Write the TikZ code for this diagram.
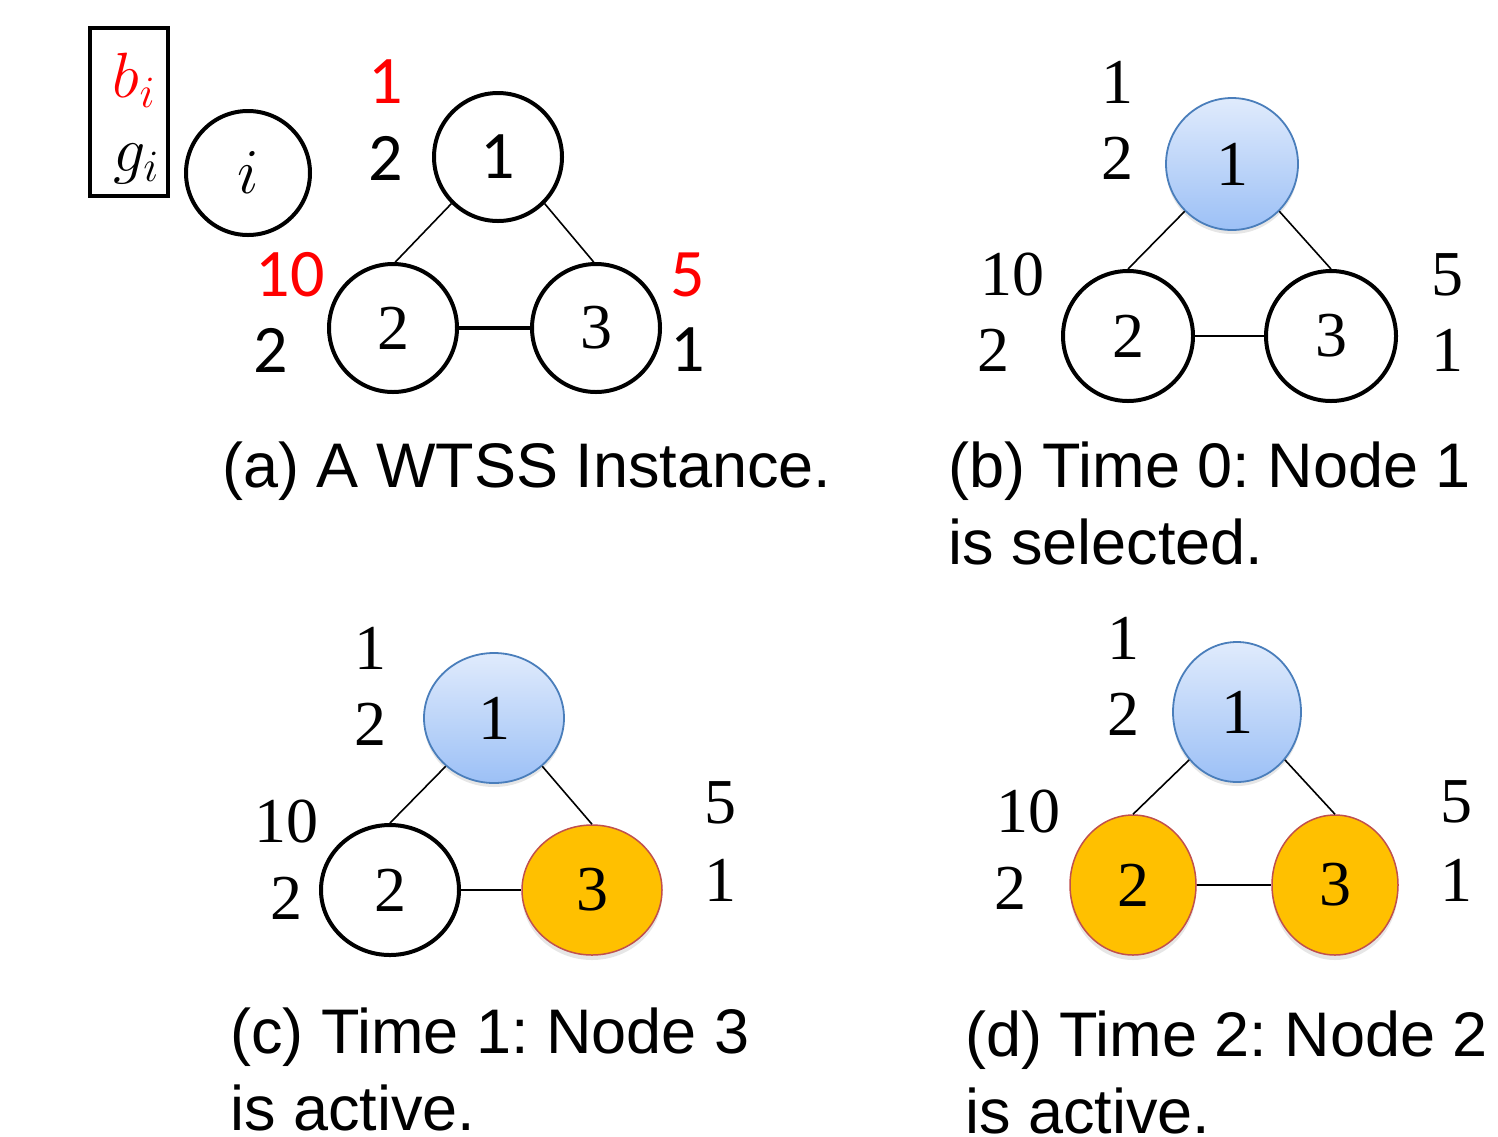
\RequirePackage{fix-cm}
\documentclass[tikz,border=0pt]{standalone}
\usepackage{fontspec}
\setmainfont{Liberation Serif}
\newfontfamily\capfont{Liberation Sans}
\newfontfamily\calfont{Carlito}
\usetikzlibrary{shapes.geometric,shadows}
\definecolor{selblue}{RGB}{74,126,187}
\definecolor{bluetop}{RGB}{224,235,252}
\definecolor{bluebot}{RGB}{156,192,246}
\definecolor{actfill}{RGB}{255,192,0}
\definecolor{actline}{RGB}{192,80,77}
\frenchspacing
\begin{document}
\begin{tikzpicture}[x=1pt,y=-1pt,
  num/.style={font=\fontsize{64}{70}\selectfont, inner sep=0pt},
  numa/.style={font=\calfont\fontsize{68}{72}\selectfont, inner sep=0pt},
  capt/.style={font=\capfont\fontsize{63}{77}\selectfont, anchor=base west, inner sep=0pt, align=left},
  plain/.style={circle, draw=black, line width=4pt, minimum size=128pt, inner sep=0pt},
  plainell/.style={ellipse, draw=black, line width=4pt, minimum width=138pt, minimum height=130pt, inner sep=0pt},
  selected/.style={ellipse, draw=selblue, line width=1.8pt, top color=bluetop, bottom color=bluebot,
    inner sep=0pt, drop shadow={opacity=0.2, shadow xshift=0pt, shadow yshift=-4pt}},
  active/.style={ellipse, draw=actline, line width=1.5pt, fill=actfill,
    inner sep=0pt, drop shadow={opacity=0.2, shadow xshift=0pt, shadow yshift=-5pt}},
  edge/.style={line width=1.6pt},
  thickedge/.style={line width=4pt}]
\useasboundingbox (0,0) rectangle (1498,1136);

% ---------- (a) legend and instance ----------
\node[draw=black, line width=4pt, minimum width=78pt, minimum height=168pt, inner sep=0pt] (legend) at (129,112) {};
\node[font=\fontsize{64}{64}\selectfont, text=red, inner sep=0pt] (bi) at (134,80) {$b_i$};
\node[font=\fontsize{64}{64}\selectfont, inner sep=0pt] (gi) at (136,164) {$g_i$};
\node[plain, minimum size=124pt, font=\fontsize{64}{64}\selectfont] (ni) at (248,173) {$i$};

\node[plain, numa] (a1) at (498,157) {1};
\node[plain, num] (a2) at (393,328) {2};
\node[plain, num] (a3) at (596,328) {3};
\draw[edge] (a1.225) -- (a2.88);
\draw[edge] (a1.-45) -- (a3.92);
\draw[thickedge] (a2) -- (a3);
\node[numa, text=red] (ab1) at (386,82) {1};
\node[numa] (ag1) at (386,158) {2};
\node[numa, text=red] (ab2) at (290,275) {10};
\node[numa] (ag2) at (271,350) {2};
\node[numa, text=red] (ab3) at (688,275) {5};
\node[numa] (ag3) at (688,350) {1};
\node[capt] (capa) at (222,487) {(a) A WTSS Instance.};

% ---------- (b) time 0 ----------
\node[selected, minimum width=132pt, minimum height=132pt, num] (b1) at (1232,164) {1};
\node[plain, minimum size=130pt, num] (b2) at (1128,336) {2};
\node[plain, minimum size=130pt, num] (b3) at (1331,336) {3};
\draw[edge] (b1.225) -- (b2.90);
\draw[edge] (b1.-45) -- (b3.90);
\draw[edge] (b2) -- (b3);
\node[num] (bb1) at (1117,82) {1};
\node[num] (bg1) at (1117,158) {2};
\node[num] (bb2) at (1012,275) {10};
\node[num] (bg2) at (993,350) {2};
\node[num] (bb3) at (1447,275) {5};
\node[num] (bg3) at (1447,350) {1};
\node[capt] (capb) at (948,564) {(b) Time 0: Node 1\\is selected.};

% ---------- (c) time 1 ----------
\node[selected, minimum width=140pt, minimum height=130pt, num] (c1) at (494,718) {1};
\node[plainell, num] (c2) at (390,890) {2};
\node[active, minimum width=140pt, minimum height=130pt, num] (c3) at (592,890) {3};
\draw[edge] (c1.225) -- (c2.90);
\draw[edge] (c1.-45) -- (c3.90);
\draw[edge] (c2) -- (c3);
\node[num] (cb1) at (370,648) {1};
\node[num] (cg1) at (370,724) {2};
\node[num] (cb2) at (286,822) {10};
\node[num] (cg2) at (286,898) {2};
\node[num] (cb3) at (720,803) {5};
\node[num] (cg3) at (720,880) {1};
\node[capt] (capc) at (230,1130) {(c) Time 1: Node 3\\is active.};

% ---------- (d) time 2 ----------
\node[selected, minimum width=128pt, minimum height=140pt, num] (d1) at (1237,712) {1};
\node[active, minimum width=126pt, minimum height=140pt, num] (d2) at (1133,885) {2};
\node[active, minimum width=126pt, minimum height=140pt, num] (d3) at (1335,885) {3};
\draw[edge] (d1.225) -- (d2.90);
\draw[edge] (d1.-45) -- (d3.90);
\draw[edge] (d2) -- (d3);
\node[num] (db1) at (1123,638) {1};
\node[num] (dg1) at (1123,714) {2};
\node[num] (db2) at (1028,812) {10};
\node[num] (dg2) at (1010,888) {2};
\node[num] (db3) at (1456,802) {5};
\node[num] (dg3) at (1456,880) {1};
\node[capt] (capd) at (965,1133) {(d) Time 2: Node 2\\is active.};
\end{tikzpicture}
\end{document}
